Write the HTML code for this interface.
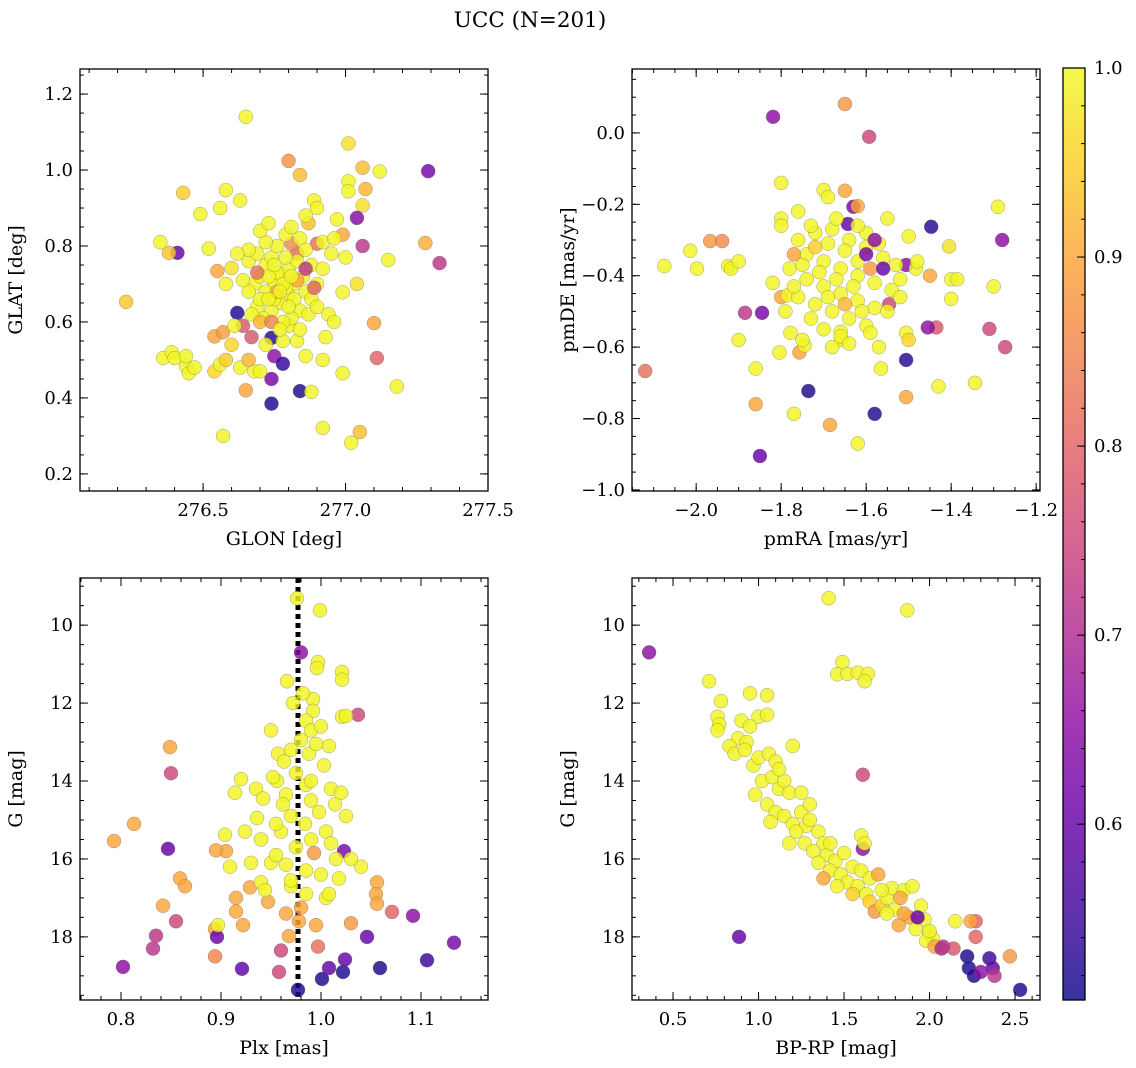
<!DOCTYPE html>
<html><head><meta charset="utf-8"><style>
body{margin:0;background:#fff;}
svg{display:block;font-family:"DejaVu Serif","Liberation Serif",serif;}
</style></head><body>
<svg id="fig" width="1136" height="1068" viewBox="0 0 1136 1068" xmlns="http://www.w3.org/2000/svg">
<defs>
<linearGradient id="plasma" x1="0" y1="1" x2="0" y2="0">
<stop offset="0" stop-color="#0d0887"/><stop offset="0.1" stop-color="#41049d"/><stop offset="0.2" stop-color="#6a00a8"/><stop offset="0.3" stop-color="#8f0da4"/><stop offset="0.4" stop-color="#b12a90"/><stop offset="0.5" stop-color="#cc4778"/><stop offset="0.6" stop-color="#e16462"/><stop offset="0.7" stop-color="#f2844b"/><stop offset="0.8" stop-color="#fca636"/><stop offset="0.9" stop-color="#fcce25"/><stop offset="1" stop-color="#f0f921"/>
</linearGradient>
</defs>
<text x="530" y="27" font-size="21.5" text-anchor="middle">UCC (N=201)</text>
</svg>
<script>
const panel1Points=[[276.23,0.653,.94],[276.65,1.14,.995],[276.80,1.024,.87],[276.84,0.987,.93],[277.01,1.07,.97],[277.06,1.006,.93],[277.12,0.996,.995],[277.29,0.997,.62],[277.01,0.97,.995],[277.01,0.944,.995],[277.07,0.95,.92],[277.06,0.907,.97],[277.04,0.874,.64],[277.28,0.808,.91],[277.33,0.755,.72],[277.15,0.763,.995],[276.41,0.782,.60],[276.38,0.782,.94],[276.35,0.81,.995],[276.43,0.94,.95],[276.49,0.884,.995],[276.56,0.90,.995],[276.58,0.947,.995],[276.63,0.92,.995],[276.52,0.793,.995],[276.55,0.734,.90],[276.60,0.742,.97],[276.58,0.70,.995],[276.36,0.505,.995],[276.39,0.52,.995],[276.40,0.505,.995],[276.44,0.483,.995],[276.45,0.465,.995],[276.47,0.48,.995],[276.44,0.51,.995],[276.57,0.30,.995],[276.54,0.47,.96],[276.56,0.488,.995],[276.58,0.50,.95],[276.62,0.624,.52],[276.54,0.562,.90],[276.57,0.573,.89],[276.64,0.59,.78],[276.67,0.56,.78],[276.74,0.558,.53],[276.75,0.51,.65],[276.74,0.45,.62],[276.78,0.49,.54],[276.74,0.385,.52],[276.84,0.418,.52],[276.88,0.416,.995],[276.65,0.42,.90],[276.92,0.321,.995],[277.02,0.282,.995],[277.05,0.31,.93],[277.11,0.505,.80],[277.18,0.43,.995],[277.10,0.597,.90],[276.99,0.465,.995],[276.99,0.678,.995],[277.04,0.70,.97],[276.92,0.50,.995],[276.86,0.51,.995],[276.83,0.78,.82],[276.81,0.806,.86],[276.90,0.806,.82],[276.92,0.81,.995],[277.06,0.80,.72],[276.99,0.83,.90],[277.0,0.77,.995],[276.95,0.78,.995],[276.87,0.86,.93],[276.89,0.92,.995],[276.90,0.90,.995],[276.86,0.88,.995],[276.63,0.48,.995],[276.68,0.47,.995],[276.66,0.50,.92],[276.70,0.47,.995],[276.72,0.54,.995],[276.78,0.55,.995],[276.80,0.59,.995],[276.83,0.55,.995],[276.60,0.54,.96],[276.61,0.59,.995],[276.68,0.70,.995],[276.70,0.72,.995],[276.72,0.75,.995],[276.74,0.77,.995],[276.76,0.80,.995],[276.79,0.83,.995],[276.81,0.85,.995],[276.84,0.82,.995],[276.86,0.79,.995],[276.88,0.75,.995],[276.85,0.72,.995],[276.82,0.70,.995],[276.80,0.67,.995],[276.77,0.65,.995],[276.74,0.63,.995],[276.71,0.61,.995],[276.69,0.64,.995],[276.66,0.68,.995],[276.64,0.71,.995],[276.66,0.76,.995],[276.69,0.78,.995],[276.72,0.81,.995],[276.75,0.70,.995],[276.78,0.72,.995],[276.80,0.74,.995],[276.83,0.76,.995],[276.86,0.68,.995],[276.88,0.66,.995],[276.90,0.70,.995],[276.92,0.74,.995],[276.84,0.63,.995],[276.81,0.61,.995],[276.78,0.60,.995],[276.75,0.66,.995],[276.72,0.68,.995],[276.79,0.69,.995],[276.82,0.66,.995],[276.76,0.73,.995],[276.73,0.72,.995],[276.70,0.66,.995],[276.67,0.62,.995],[276.87,0.62,.995],[276.90,0.64,.995],[276.94,0.62,.995],[276.96,0.60,.995],[276.70,0.60,.92],[276.74,0.60,.85],[276.69,0.73,.82],[276.86,0.74,.72],[276.89,0.69,.80],[276.76,0.68,.9],[276.83,0.71,.9],[276.79,0.77,.995],[276.70,0.84,.995],[276.73,0.86,.995],[276.66,0.79,.995],[276.62,0.78,.995],[276.77,0.58,.995],[276.84,0.58,.995],[276.93,0.56,.995],[276.96,0.82,.995],[276.97,0.87,.995],[276.75,0.75,.995],[276.78,0.70,.995],[276.81,0.72,.995],[276.77,0.68,.995],[276.80,0.64,.995],[276.73,0.66,.995]];
const panel2Points=[[-2.075,-0.373,.995],[-2.014,-0.33,.995],[-1.967,-0.303,.88],[-1.939,-0.303,.86],[-1.998,-0.38,.995],[-1.925,-0.373,.995],[-1.918,-0.38,.995],[-1.819,0.045,.65],[-1.80,-0.14,.995],[-2.12,-0.667,.82],[-1.885,-0.504,.72],[-1.90,-0.58,.995],[-1.86,-0.76,.90],[-1.85,-0.905,.60],[-1.845,-0.504,.62],[-1.77,-0.787,.995],[-1.736,-0.723,.52],[-1.685,-0.818,.90],[-1.62,-0.87,.995],[-1.58,-0.787,.53],[-1.65,0.081,.88],[-1.593,-0.011,.75],[-1.65,-0.162,.90],[-1.63,-0.207,.62],[-1.62,-0.205,.9],[-1.643,-0.255,.60],[-1.447,-0.263,.53],[-1.28,-0.30,.65],[-1.29,-0.207,.995],[-1.30,-0.43,.995],[-1.31,-0.549,.75],[-1.273,-0.60,.75],[-1.344,-0.70,.995],[-1.43,-0.71,.995],[-1.506,-0.636,.53],[-1.506,-0.74,.90],[-1.506,-0.56,.995],[-1.50,-0.58,.96],[-1.435,-0.545,.78],[-1.455,-0.545,.65],[-1.40,-0.465,.995],[-1.40,-0.41,.995],[-1.386,-0.41,.995],[-1.405,-0.318,.97],[-1.57,-0.60,.995],[-1.565,-0.66,.995],[-1.66,-0.557,.995],[-1.658,-0.58,.995],[-1.804,-0.615,.995],[-1.757,-0.615,.90],[-1.745,-0.595,.995],[-1.778,-0.56,.995],[-1.80,-0.46,.9],[-1.785,-0.455,.995],[-1.5,-0.29,.995],[-1.506,-0.37,.65],[-1.483,-0.38,.995],[-1.546,-0.48,.75],[-1.80,-0.24,.995],[-1.80,-0.26,.995],[-1.76,-0.22,.995],[-1.70,-0.16,.995],[-1.69,-0.18,.995],[-1.55,-0.24,.995],[-1.48,-0.36,.995],[-1.45,-0.40,.9],[-1.90,-0.36,.995],[-1.82,-0.42,.995],[-1.86,-0.66,.995],[-1.76,-0.30,.995],[-1.72,-0.28,.995],[-1.68,-0.27,.995],[-1.64,-0.30,.995],[-1.60,-0.32,.995],[-1.56,-0.35,.995],[-1.74,-0.34,.995],[-1.70,-0.36,.995],[-1.66,-0.38,.995],[-1.62,-0.40,.995],[-1.58,-0.42,.995],[-1.54,-0.44,.995],[-1.78,-0.38,.995],[-1.74,-0.41,.995],[-1.70,-0.43,.995],[-1.66,-0.45,.995],[-1.62,-0.47,.995],[-1.58,-0.49,.995],[-1.76,-0.46,.995],[-1.72,-0.48,.995],[-1.68,-0.50,.995],[-1.64,-0.52,.995],[-1.60,-0.54,.995],[-1.70,-0.55,.995],[-1.66,-0.57,.995],[-1.73,-0.52,.995],[-1.62,-0.36,.995],[-1.65,-0.33,.995],[-1.69,-0.31,.995],[-1.60,-0.28,.995],[-1.57,-0.31,.995],[-1.53,-0.37,.995],[-1.52,-0.41,.995],[-1.55,-0.50,.995],[-1.63,-0.43,.995],[-1.67,-0.41,.995],[-1.71,-0.39,.995],[-1.75,-0.37,.995],[-1.77,-0.43,.995],[-1.69,-0.46,.995],[-1.61,-0.50,.995],[-1.65,-0.48,.92],[-1.59,-0.38,.88],[-1.72,-0.32,.95],[-1.58,-0.30,.65],[-1.60,-0.34,.62],[-1.56,-0.38,.6],[-1.62,-0.26,.995],[-1.67,-0.24,.995],[-1.73,-0.26,.995],[-1.52,-0.46,.995],[-1.64,-0.59,.995],[-1.68,-0.60,.995],[-1.59,-0.56,.995],[-1.79,-0.50,.995],[-1.75,-0.58,.995],[-1.77,-0.34,.9]];
const panel3Points=[[0.976,9.31,.995],[0.999,9.62,.995],[0.98,10.7,.65],[0.966,11.44,.995],[1.021,11.2,.995],[1.021,11.4,.995],[0.997,10.95,.995],[0.996,11.1,.995],[0.992,11.9,.995],[0.992,12.2,.995],[1.037,12.3,.75],[1.021,12.35,.995],[1.025,12.33,.995],[0.849,13.13,.9],[0.85,13.8,.75],[0.813,15.1,.9],[0.793,15.54,.9],[0.847,15.74,.6],[0.859,16.5,.9],[0.864,16.7,.9],[0.855,17.6,.75],[0.842,17.2,.9],[0.835,17.97,.72],[0.832,18.3,.72],[0.802,18.77,.65],[0.894,17.8,.9],[0.896,18.0,.6],[0.894,18.5,.85],[0.921,18.82,.6],[0.958,18.9,.75],[0.96,18.35,.75],[0.968,17.98,.9],[0.977,19.36,.52],[1.001,19.08,.52],[1.008,18.8,.6],[1.022,18.9,.52],[1.024,18.58,.6],[1.059,18.8,.52],[1.106,18.6,.55],[1.133,18.15,.62],[1.092,17.46,.65],[1.071,17.36,.8],[1.046,18.0,.6],[1.023,15.8,.62],[0.995,17.7,.9],[0.997,18.25,.82],[1.018,16.5,.995],[1.056,16.6,.9],[1.055,16.9,.9],[1.056,17.15,.9],[1.03,17.65,.88],[0.993,15.85,.88],[0.905,15.8,.9],[0.895,15.78,.9],[0.915,17.0,.9],[0.915,17.35,.9],[0.897,17.7,.995],[0.922,17.7,.9],[0.929,16.73,.9],[0.947,17.1,.9],[0.98,17.25,.9],[0.978,17.6,.9],[0.904,15.38,.995],[0.909,16.2,.995],[0.924,15.3,.995],[0.935,14.2,.995],[0.942,14.45,.995],[0.956,14.0,.995],[0.936,14.95,.995],[0.93,16.1,.995],[0.94,16.6,.995],[0.95,16.1,.995],[0.944,16.8,.995],[0.97,16.7,.995],[0.95,12.7,.995],[0.957,13.3,.995],[0.963,13.5,.995],[0.952,13.9,.995],[0.92,13.95,.995],[0.914,14.3,.995],[0.972,12.0,.995],[0.985,12.45,.995],[0.99,12.7,.995],[0.98,12.95,.995],[0.97,13.2,.995],[0.988,13.3,.995],[0.995,13.05,.995],[1.003,13.6,.995],[0.975,13.8,.995],[0.985,14.1,.995],[0.965,14.35,.995],[0.99,14.5,.995],[0.998,14.8,.995],[0.97,14.9,.995],[0.984,15.1,.995],[0.96,15.3,.995],[0.99,15.5,.995],[0.975,15.7,.995],[0.955,15.9,.995],[0.965,16.15,.995],[0.985,16.3,.995],[1.0,16.4,.995],[0.97,16.55,.995],[0.985,16.9,.995],[1.005,17.0,.995],[0.965,17.4,.9],[0.99,14.0,.995],[1.01,14.2,.995],[1.014,14.6,.995],[1.02,14.3,.995],[1.025,14.9,.995],[1.005,15.3,.995],[1.01,15.6,.995],[1.015,16.0,.995],[1.008,16.9,.995],[1.04,16.2,.995],[1.03,16.0,.995],[0.94,15.5,.995],[0.955,15.1,.995],[0.962,14.6,.995],[1.0,12.6,.995],[1.008,13.1,.995],[0.982,11.75,.995]];
const panel4Points=[[0.36,10.7,.65],[0.886,18.0,.6],[1.41,9.31,.995],[1.87,9.62,.995],[1.49,10.95,.995],[1.46,11.26,.995],[1.52,11.25,.995],[1.58,11.22,.995],[1.64,11.25,.995],[1.62,11.44,.995],[0.71,11.44,.995],[0.78,11.95,.995],[0.76,12.35,.995],[0.77,12.55,.995],[0.76,12.7,.995],[0.95,11.75,.995],[1.05,11.8,.995],[1.0,12.35,.995],[1.05,12.3,.995],[0.9,12.45,.995],[0.95,12.6,.995],[0.88,12.9,.995],[0.83,13.1,.995],[0.86,13.3,.995],[0.93,13.0,.995],[0.97,13.6,.995],[1.0,13.4,.995],[1.06,13.3,.995],[1.1,13.5,.995],[1.2,13.1,.995],[1.61,13.84,.75],[0.98,14.35,.995],[1.02,14.0,.995],[1.08,13.9,.995],[1.12,14.2,.995],[1.15,14.0,.995],[1.18,14.3,.995],[1.05,14.6,.995],[1.1,14.8,.995],[1.07,15.05,.995],[1.15,14.9,.995],[1.2,15.1,.995],[1.25,14.8,.995],[1.28,15.15,.995],[1.3,15.0,.995],[1.22,15.3,.995],[1.18,15.6,.995],[1.27,15.6,.995],[1.35,15.3,.995],[1.38,15.6,.995],[1.32,15.8,.995],[1.4,15.9,.995],[1.45,16.05,.995],[1.35,16.1,.995],[1.42,16.3,.995],[1.5,15.85,.995],[1.61,15.74,.65],[1.6,15.4,.995],[1.62,15.6,.995],[1.48,16.4,.995],[1.52,16.6,.995],[1.46,16.7,.995],[1.38,16.5,.9],[1.55,16.2,.995],[1.6,16.3,.995],[1.58,16.7,.995],[1.65,16.5,.995],[1.7,16.4,.9],[1.63,16.9,.995],[1.65,17.1,.95],[1.68,17.35,.88],[1.72,17.2,.95],[1.75,17.0,.995],[1.8,17.3,.995],[1.78,16.75,.995],[1.85,16.8,.995],[1.9,16.7,.995],[1.83,17.0,.9],[1.88,17.5,.9],[1.92,17.8,.995],[1.95,17.2,.995],[1.97,17.55,.995],[2.0,17.9,.995],[2.02,18.05,.995],[1.98,18.1,.995],[2.03,18.25,.9],[2.07,18.3,.7],[2.0,17.85,.995],[1.93,17.5,.6],[1.82,17.7,.9],[2.27,17.6,.8],[2.24,17.6,.9],[2.27,18.0,.8],[2.22,18.5,.52],[2.23,18.8,.52],[2.26,19.0,.52],[2.35,18.55,.55],[2.37,18.8,.6],[2.38,19.0,.72],[2.47,18.5,.88],[2.53,19.36,.52],[2.14,18.3,.78],[2.08,18.25,.72],[2.15,17.6,.995],[2.3,18.9,.65],[1.55,16.9,.95],[1.42,15.6,.995],[1.3,14.6,.995],[1.25,14.3,.995],[1.12,13.7,.995],[0.92,13.2,.995],[1.72,16.8,.995],[1.85,17.4,.9],[1.75,17.4,.995]];
const p1XTicks=[276.5,277.0,277.5], p1YTicks=[0.2,0.4,0.6,0.8,1.0,1.2];
const p2XTicks=[-2.0,-1.8,-1.6,-1.4,-1.2], p2YTicks=[-1.0,-0.8,-0.6,-0.4,-0.2,0.0];
const p3XTicks=[0.8,0.9,1.0,1.1], p3YTicks=[10,12,14,16,18];
const p4XTicks=[0.5,1.0,1.5,2.0,2.5], p4YTicks=[10,12,14,16,18];
const cbTicks=[0.6,0.7,0.8,0.9,1.0];
const plxLine=0.977;

const NS="http://www.w3.org/2000/svg";
const svg=document.getElementById('fig');
const CMIN=0.507,CMAX=1.0;
const stops=[[13,8,135],[65,4,157],[106,0,168],[143,13,164],[177,42,144],[204,71,120],[225,100,98],[242,132,75],[252,166,54],[252,206,37],[240,249,33]];
function cmap(v){let t=(v-CMIN)/(CMAX-CMIN);t=Math.max(0,Math.min(1,t))*10;const i=Math.min(9,Math.floor(t)),f=t-i;const a=stops[i],b=stops[i+1];return 'rgb('+a.map((c,k)=>Math.round(c+(b[k]-c)*f)).join(',')+')';}
function mk(tag,attrs,parent){const e=document.createElementNS(NS,tag);for(const k in attrs)e.setAttribute(k,attrs[k]);(parent||svg).appendChild(e);return e;}
function fmt(v,d){let s=v.toFixed(d);return s.replace('-','\u2212');}
const TF=18, LF=19;

function panel(cfg){
  const {L,T,R,B,xmin,xmax,ymin,ymax,xt,yt,xminor,yminor,dx,dy,xlabel,ylabel,pts,name}=cfg;
  const sx=v=>L+(v-xmin)/(xmax-xmin)*(R-L);
  const sy=v=>B-(v-ymin)/(ymax-ymin)*(B-T);
  const g=mk('g',{});
  
  
  const clipId=name+'-clip';
  const cp=mk('clipPath',{id:clipId},g);mk('rect',{x:L,y:T,width:R-L,height:B-T},cp);
  const pg=mk('g',{'clip-path':'url(#'+clipId+')'},g);
  
  
  if(cfg.vline!==undefined){const ln=mk('line',{x1:sx(cfg.vline),x2:sx(cfg.vline),y1:T,y2:B,stroke:'#000','stroke-width':5,'stroke-dasharray':'5,4'},pg);
    
    }
  pts.forEach(p=>{const c=mk('circle',{cx:sx(p[0]),cy:sy(p[1]),r:7,fill:cmap(p[2]),'fill-opacity':0.82,stroke:'#666','stroke-width':0.5,'stroke-opacity':0.6},pg);
    
    });
  const box=mk('rect',{x:L,y:T,width:R-L,height:B-T,fill:'none',stroke:'#000','stroke-width':1.3},g);
  
  
  const lo=Math.min(ymin,ymax),hi=Math.max(ymin,ymax);
  for(let v=Math.ceil(xmin/xminor)*xminor;v<=xmax;v+=xminor){const x=sx(v);mk('line',{x1:x,x2:x,y1:B,y2:B-4,stroke:'#000'},g);mk('line',{x1:x,x2:x,y1:T,y2:T+4,stroke:'#000'},g);}
  for(let v=Math.ceil(lo/yminor)*yminor;v<=hi;v+=yminor){const y=sy(v);mk('line',{x1:L,x2:L+4,y1:y,y2:y,stroke:'#000'},g);mk('line',{x1:R,x2:R-4,y1:y,y2:y,stroke:'#000'},g);}
  xt.forEach(v=>{const x=sx(v);mk('line',{x1:x,x2:x,y1:B,y2:B-8,stroke:'#000'},g);mk('line',{x1:x,x2:x,y1:T,y2:T+8,stroke:'#000'},g);
    const t=mk('text',{x:x,y:B+25,'font-size':TF,'text-anchor':'middle'},g);t.textContent=fmt(v,dx);
    
    });
  yt.forEach(v=>{const y=sy(v);mk('line',{x1:L,x2:L+8,y1:y,y2:y,stroke:'#000'},g);mk('line',{x1:R,x2:R-8,y1:y,y2:y,stroke:'#000'},g);
    const t=mk('text',{x:L-7,y:y+6,'font-size':TF,'text-anchor':'end'},g);t.textContent=fmt(v,dy);
    
    });
  const xl=mk('text',{x:(L+R)/2,y:B+54,'font-size':LF,'text-anchor':'middle'},g);xl.textContent=xlabel;
  
  
  const yx=L-58;const yy=(T+B)/2;
  const yl=mk('text',{x:yx,y:yy,'font-size':LF,'text-anchor':'middle',transform:'rotate(-90 '+yx+' '+yy+')'},g);yl.textContent=ylabel;
  
  
}
panel({name:'glon-glat-panel',L:80,T:69,R:488,B:491,xmin:276.068,xmax:277.5,ymin:0.155,ymax:1.266,xt:p1XTicks,yt:p1YTicks,xminor:0.1,yminor:0.05,dx:1,dy:1,xlabel:'GLON [deg]',ylabel:'GLAT [deg]',pts:panel1Points});
panel({name:'pm-panel',L:632,T:69,R:1040,B:491,xmin:-2.151,xmax:-1.191,ymin:-1.003,ymax:0.179,xt:p2XTicks,yt:p2YTicks,xminor:0.05,yminor:0.05,dx:1,dy:1,xlabel:'pmRA [mas/yr]',ylabel:'pmDE [mas/yr]',pts:panel2Points});
panel({name:'plx-g-panel',L:80,T:578,R:488,B:1000,xmin:0.759,xmax:1.167,ymin:19.62,ymax:8.79,xt:p3XTicks,yt:p3YTicks,xminor:0.02,yminor:0.5,dx:1,dy:0,xlabel:'Plx [mas]',ylabel:'G [mag]',pts:panel3Points,vline:plxLine});
panel({name:'cmd-panel',L:632,T:578,R:1040,B:1000,xmin:0.26,xmax:2.646,ymin:19.62,ymax:8.79,xt:p4XTicks,yt:p4YTicks,xminor:0.1,yminor:0.5,dx:1,dy:0,xlabel:'BP-RP [mag]',ylabel:'G [mag]',pts:panel4Points});
(function(){
  const L=1063,R=1085,T=68,B=1000;
  const sy=v=>B-(v-CMIN)/(CMAX-CMIN)*(B-T);
  const g=mk('g',{});
  
  
  mk('rect',{x:L,y:T,width:R-L,height:B-T,fill:'url(#plasma)','fill-opacity':0.82},g);
  mk('rect',{x:L,y:T,width:R-L,height:B-T,fill:'none',stroke:'#000','stroke-width':1.3},g);
  for(let v=0.52;v<1.0;v+=0.02){const y=sy(v);mk('line',{x1:R,x2:R-4,y1:y,y2:y,stroke:'#000'},g);}
  cbTicks.forEach(v=>{const y=sy(v);mk('line',{x1:R,x2:R-8,y1:y,y2:y,stroke:'#000'},g);
    const t=mk('text',{x:R+9,y:y+6,'font-size':TF},g);t.textContent=v.toFixed(1);
    
    });
})();
</script>
</body></html>
